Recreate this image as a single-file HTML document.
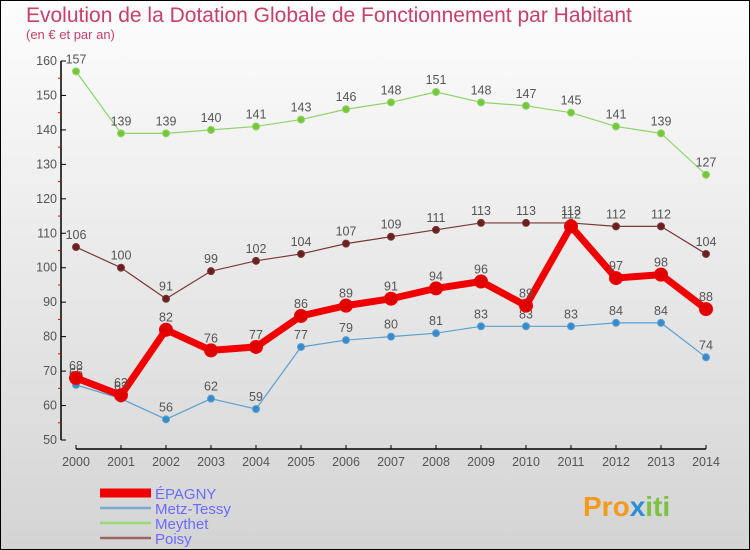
<!DOCTYPE html>
<html><head><meta charset="utf-8"><style>
body{margin:0}
#c{width:750px;height:550px;position:relative;overflow:hidden}
</style></head><body>
<div id="c">
<svg id="s" width="750" height="550" xmlns="http://www.w3.org/2000/svg" style="font-family:'Liberation Sans',sans-serif">
<defs><linearGradient id="bg" x1="0" y1="0" x2="0" y2="1"><stop offset="0" stop-color="#fdfdfd"/><stop offset="1" stop-color="#d4d4d4"/></linearGradient></defs>
<rect x="0.5" y="0.5" width="749" height="549" fill="url(#bg)" stroke="#000"/>
<text x="26" y="22" font-size="21" fill="#c8406a">Evolution de la Dotation Globale de Fonctionnement par Habitant</text>
<text x="26" y="39" font-size="13" fill="#c8406a">(en € et par an)</text>
<g id="axes"></g><g id="series"></g><g id="legend"></g>
<text x="583" y="516" font-size="28" font-weight="bold" fill="#f29a1e">Pro<tspan fill="#2a8fd6">x</tspan><tspan fill="#7cc242">iti</tspan></text>
</svg></div>
<script>
const years=[2000,2001,2002,2003,2004,2005,2006,2007,2008,2009,2010,2011,2012,2013,2014];
const epagny=[68,63,82,76,77,86,89,91,94,96,89,112,97,98,88];
const metz=[66,62,56,62,59,77,79,80,81,83,83,83,84,84,74];
const meythet=[157,139,139,140,141,143,146,148,151,148,147,145,141,139,127];
const poisy=[106,100,91,99,102,104,107,109,111,113,113,113,112,112,104];
const yTicks=[50,60,70,80,90,100,110,120,130,140,150,160];
const NS='http://www.w3.org/2000/svg';
const X=i=>76+i*45, Y=v=>440-(v-50)*(379/110);
function mk(p,t,a){const e=document.createElementNS(NS,t);for(const k in a)e.setAttribute(k,a[k]);p.appendChild(e);return e;}
const ax=document.getElementById('axes');
let l=mk(ax,'line',{x1:61,y1:Y(160),x2:61,y2:440,stroke:'#000','stroke-width':1.5});


l=mk(ax,'line',{x1:X(0),y1:449,x2:X(14),y2:449,stroke:'#000','stroke-width':1.5});


yTicks.forEach(v=>{mk(ax,'line',{x1:61,y1:Y(v),x2:66,y2:Y(v),stroke:'#000'});
 if(v<160)mk(ax,'line',{x1:58,y1:Y(v+5),x2:61,y2:Y(v+5),stroke:'#e00'});
 const t=mk(ax,'text',{x:57,y:Y(v)+4,'font-size':12.5,fill:'#555','text-anchor':'end'});t.textContent=v;
 
 });
years.forEach((y,i)=>{mk(ax,'line',{x1:X(i),y1:445,x2:X(i),y2:449,stroke:'#000'});
 const t=mk(ax,'text',{x:X(i),y:466,'font-size':12.5,fill:'#555','text-anchor':'middle'});t.textContent=y;
 
 });
const sg=document.getElementById('series');
function draw(name,vals,col,dot,w,r){
 const g=mk(sg,'g',{});
 
 
 mk(g,'polyline',{points:vals.map((v,i)=>X(i)+','+Y(v)).join(' '),fill:'none',stroke:col,'stroke-width':w,'stroke-linejoin':'round'});
 vals.forEach((v,i)=>{const c=mk(g,'circle',{cx:X(i),cy:Y(v),r:r,fill:dot,stroke:col,'stroke-width':1});
  
  
  const t=mk(g,'text',{x:X(i),y:Y(v)-8,'font-size':12.5,fill:'#555','text-anchor':'middle'});t.textContent=v;});
}
draw('meythet',meythet,'#8fd46a','#77c63a',1.2,3.5);
draw('poisy',poisy,'#7a3838','#6b2020',1.2,3.5);
draw('metz-tessy',metz,'#5aa0d0','#3a8acb',1.2,3.5);
draw('epagny',epagny,'#f00000','#e00000',7,6.5);
const lg=document.getElementById('legend');
[['ÉPAGNY','#f00000',9],['Metz-Tessy','#7aaad0',2.5],['Meythet','#99d97a',2.5],['Poisy','#996666',2.5]].forEach((d,i)=>{
 const g=mk(lg,'g',{});
 
 
 mk(g,'line',{x1:100,y1:493+i*15,x2:151,y2:493+i*15,stroke:d[1],'stroke-width':d[2]});
 const t=mk(g,'text',{x:155,y:499+i*15,'font-size':15,fill:'#6b6bff'});t.textContent=d[0];});
</script></body></html>
